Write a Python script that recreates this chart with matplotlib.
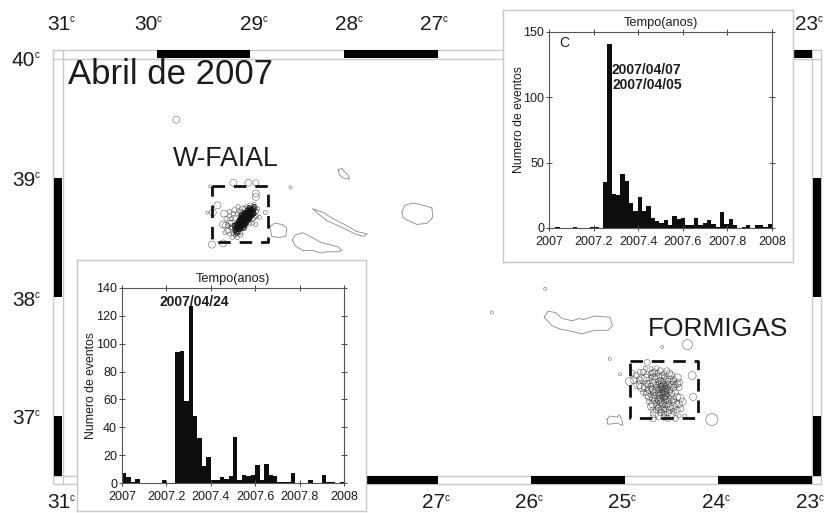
import numpy as np
import matplotlib
matplotlib.use("Agg")
import matplotlib.pyplot as plt

plt.rcParams['font.family'] = ['Liberation Sans', 'DejaVu Sans']

W, H = 828, 513

# Histogram data, events per bin
bins_c = list(range(53))
counts_c = [0, 0, 1, 0, 0, 0, 1, 0, 0, 0, 1, 1, 0, 35, 141, 26, 25, 41, 36, 19, 13, 24, 13, 17, 8, 5, 4,
            6, 2, 9, 7, 8, 2, 2, 8, 2, 4, 6, 3, 1, 12, 3, 7, 2, 0, 1, 2, 0, 2, 2, 1, 3, 0]
bins_f = list(range(50))
counts_f = [7, 4, 1, 3, 0, 0, 0, 0, 0, 2, 0, 0, 94, 95, 59, 127, 48, 32, 12, 19, 2, 2, 4, 3, 5,
            33, 2, 6, 5, 6, 13, 2, 14, 6, 5, 1, 1, 1, 7, 0, 0, 0, 2, 0, 0, 6, 1, 1, 0, 1]
year_ticks = [2007, 2007.2, 2007.4, 2007.6, 2007.8, 2008]
year_labels = ['2007', '2007.2', '2007.4', '2007.6', '2007.8', '2008']

# Events W of Faial (degrees W, degrees N, magnitude)
faial_lon = [29.79, 29.18, 29.02, 28.94, 28.94, 28.94, 28.57, 29.43, 29.35, 29.40, 29.46, 29.28, 29.29, 29.41, 29.29,
             28.90, 28.84, 28.94, 29.10, 29.14, 29.17, 29.19, 29.13, 29.22, 29.17, 28.95, 28.97,
             29.20, 29.22, 29.18, 29.12, 29.08, 29.04, 29.16, 29.19, 29.24, 29.21, 29.26, 28.98, 28.93,
             29.22, 29.16, 29.20, 29.24, 29.14, 29.10, 29.06, 29.00, 28.96, 28.92, 28.94, 28.98, 29.02, 29.06,
             29.10, 29.14, 29.18, 29.22, 29.26, 29.27]
faial_lat = [39.49, 38.96, 38.96, 38.96, 38.87, 38.84, 38.92, 38.93, 38.77, 38.71, 38.71, 38.70, 38.61, 38.44, 38.45,
             38.67, 38.71, 38.61, 38.52, 38.50, 38.55, 38.59, 38.76, 38.72, 38.73, 38.75, 38.67,
             38.62, 38.68, 38.70, 38.72, 38.74, 38.76, 38.52, 38.50, 38.56, 38.58, 38.66, 38.62, 38.72,
             38.62, 38.66, 38.66, 38.60, 38.70, 38.72, 38.74, 38.77, 38.78, 38.74, 38.68, 38.66, 38.62, 38.58,
             38.54, 38.53, 38.54, 38.53, 38.60, 38.54]
faial_mag = [3.5, 3.5, 3.5, 3, 3.5, 3.5, 1.5, 1.5, 3.5, 3.5, 1.5, 3.5, 3.5, 3.5, 3.5,
             2, 2, 2, 2, 2, 2, 3, 2, 2, 2.5, 2.5, 3.5,
             3, 2, 2, 2, 3, 2, 2, 2, 3, 2, 2, 2, 2,
             3, 2.5, 2, 2.5, 2, 2, 2.5, 2.5, 2, 2, 2.5, 3, 3, 2.5,
             2, 2, 2.5, 2, 3.5, 2]
# dense part of the W-Faial swarm, all small events
faial_core_lon = [29.16, 29.14, 29.13, 29.12, 29.15, 29.11, 29.10, 29.13, 29.09, 29.08, 29.11, 29.07, 29.06, 29.09,
                  29.05, 29.04, 29.07, 29.03, 29.02, 29.05, 29.01, 29.00, 29.03, 28.99, 28.98, 29.01, 28.97, 28.96,
                  29.10, 29.08, 29.06, 29.04, 29.02, 29.00, 29.12, 29.07, 29.05, 29.03, 29.09, 29.11, 29.06, 29.08,
                  29.04, 29.02, 29.00, 29.10, 29.12, 29.14, 29.07, 29.05, 29.03, 29.01, 28.99, 28.97, 29.09, 29.06,
                  29.13, 29.11, 29.09, 29.07, 29.12, 29.10, 29.08, 29.06, 29.04, 29.10, 29.08, 29.06, 29.04, 29.02,
                  29.00, 29.02, 29.00, 28.98, 28.98, 28.96, 28.96, 28.99, 29.01, 29.03, 29.05, 29.07, 29.09, 29.11,
                  29.13, 29.15, 29.08, 29.06, 29.04, 29.02, 29.00, 29.10, 29.12, 29.07, 29.05, 29.03, 29.09, 29.05,
                  29.03, 29.01, 29.07, 29.11, 29.14, 29.16, 29.15, 29.17]
faial_core_lat = [38.56, 38.58, 38.55, 38.60, 38.61, 38.57, 38.62, 38.63, 38.60, 38.64, 38.65, 38.62, 38.66, 38.67,
                  38.64, 38.68, 38.69, 38.66, 38.70, 38.71, 38.68, 38.72, 38.73, 38.70, 38.74, 38.75, 38.72, 38.76,
                  38.66, 38.61, 38.63, 38.65, 38.67, 38.69, 38.62, 38.65, 38.67, 38.69, 38.63, 38.61, 38.68, 38.66,
                  38.70, 38.72, 38.74, 38.59, 38.57, 38.60, 38.60, 38.62, 38.64, 38.66, 38.68, 38.70, 38.69, 38.71,
                  38.59, 38.59, 38.58, 38.58, 38.64, 38.64, 38.62, 38.60, 38.62, 38.68, 38.68, 38.65, 38.67, 38.65,
                  38.67, 38.69, 38.71, 38.69, 38.72, 38.70, 38.74, 38.73, 38.73, 38.71, 38.69, 38.67, 38.65, 38.63,
                  38.61, 38.58, 38.63, 38.64, 38.66, 38.68, 38.70, 38.61, 38.59, 38.66, 38.68, 38.70, 38.64, 38.65,
                  38.67, 38.69, 38.63, 38.60, 38.57, 38.58, 38.54, 38.60]

# Events at Formigas
formigas_lon = [25.85, 26.42, 24.33, 24.60, 25.16, 25.05, 24.07, 24.76, 24.28, 24.27, 24.41, 24.95, 24.92,
                24.72, 24.68, 24.65, 24.62, 24.58, 24.70, 24.66, 24.62, 24.58, 24.54, 24.50, 24.64, 24.60, 24.56,
                24.52, 24.48, 24.68, 24.62, 24.58, 24.54, 24.50, 24.70, 24.65, 24.60, 24.56, 24.52, 24.66, 24.62,
                24.58, 24.54, 24.64, 24.60, 24.56, 24.52, 24.62, 24.58, 24.60, 24.57, 24.61, 24.64, 24.67, 24.59,
                24.55, 24.63, 24.61, 24.57, 24.66, 24.53, 24.59, 24.56,
                24.88, 24.84, 24.80, 24.78, 24.76, 24.82, 24.74, 24.76, 24.80, 24.86, 24.90, 24.72, 24.66, 24.55,
                24.50, 24.44, 24.42, 24.46, 24.42, 24.38, 24.48, 24.44, 24.40, 24.50, 24.46, 24.54, 24.68, 24.70,
                24.66, 24.74, 24.72, 24.36, 24.42, 24.78, 24.84,
                24.74, 24.72, 24.70, 24.64, 24.60, 24.56, 24.52, 24.48, 24.46, 24.64, 24.60, 24.56, 24.62, 24.58,
                24.54, 24.66, 24.60, 24.56, 24.52, 24.64, 24.60, 24.57, 24.62, 24.58, 24.54, 24.60, 24.64, 24.68,
                24.58, 24.62, 24.54, 24.66, 24.70, 24.72, 24.74, 24.76, 24.78, 24.82, 24.84, 24.72, 24.74, 24.68,
                24.50, 24.48, 24.46, 24.44, 24.42, 24.44, 24.48, 24.52, 24.58, 24.62, 24.68, 24.76, 24.70, 24.70,
                24.64, 24.58, 24.52, 24.48]
formigas_lat = [38.07, 37.87, 37.60, 37.58, 37.48, 37.35, 36.97, 37.45, 37.34, 37.16, 37.15, 37.29, 37.36,
                37.36, 37.33, 37.36, 37.30, 37.33, 37.28, 37.26, 37.25, 37.27, 37.29, 37.26, 37.22, 37.22, 37.23,
                37.22, 37.24, 37.20, 37.19, 37.19, 37.18, 37.19, 37.15, 37.15, 37.16, 37.14, 37.15, 37.11, 37.11,
                37.12, 37.10, 37.07, 37.07, 37.06, 37.05, 37.03, 37.02, 37.24, 37.25, 37.27, 37.29, 37.31, 37.20,
                37.21, 37.17, 37.13, 37.09, 37.24, 37.26, 37.29, 37.17,
                37.34, 37.30, 37.37, 37.32, 37.27, 37.24, 37.22, 37.18, 37.20, 37.26, 37.30, 37.40, 37.40, 37.38,
                37.34, 37.32, 37.28, 37.20, 37.10, 37.12, 37.08, 37.05, 37.06, 37.01, 36.98, 36.98, 37.02, 36.98,
                37.05, 37.12, 37.08, 37.00, 37.00, 37.40, 37.37,
                37.30, 37.33, 37.36, 37.33, 37.34, 37.31, 37.31, 37.29, 37.26, 37.27, 37.25, 37.26, 37.23, 37.23,
                37.24, 37.22, 37.20, 37.20, 37.20, 37.19, 37.18, 37.16, 37.15, 37.15, 37.13, 37.10, 37.13, 37.13,
                37.05, 37.05, 37.03, 37.09, 37.22, 37.25, 37.27, 37.35, 37.24, 37.32, 37.26, 37.18, 37.16, 37.17,
                37.12, 37.14, 37.11, 37.16, 37.24, 37.27, 37.31, 37.36, 37.36, 37.38, 37.37, 37.20, 37.10, 37.05,
                37.00, 36.99, 37.08, 37.04]
formigas_mag = [1.5, 1.5, 5, 1.5, 1.5, 1.5, 6, 3, 4, 3.5, 4, 4, 3,
                2.5, 3, 2.5, 3, 2.5, 3.5, 3, 3, 2.5, 3, 3.5, 3, 2.5, 3,
                3, 3.5, 3, 2.5, 3, 2.5, 3, 3.5, 3, 2.5, 3, 2.5, 3, 3,
                2.5, 3, 3, 2.5, 3, 3.5, 3, 2.5, 2.5, 2.5, 3, 3, 3, 2.5,
                2.5, 3, 3, 2.5, 3, 3, 2.5, 3,
                3, 3.5, 3, 4, 3.5, 4, 3.5, 4, 3, 4, 3.5, 2, 2.5, 3,
                3.5, 4, 3.5, 3, 3.5, 3.5, 4, 3, 3, 3.5, 3, 3, 4, 3.5,
                3, 2.5, 3.5, 2, 2, 2, 2.5,
                3, 2.5, 3, 3.5, 3, 2.5, 3, 3.5, 3, 2.5, 3, 2.5, 2.5, 3,
                2.5, 3, 2.5, 3, 2.5, 3, 2.5, 3, 3, 2.5, 3, 3, 3.5, 3,
                3, 2.5, 3.5, 3, 3.5, 3, 3.5, 3, 4, 3, 3.5, 3, 3.5, 3,
                3.5, 3, 4, 3.5, 3, 3.5, 3, 3, 2.5, 3, 3, 3.5, 4, 3,
                3.5, 3, 4, 3]

# Island outlines
sao_jorge_lon = [28.33, 28.22, 28.12, 27.97, 27.86, 27.75, 27.79, 27.88, 28.01, 28.09, 28.18, 28.26, 28.33]
sao_jorge_lat = [38.74, 38.71, 38.66, 38.60, 38.55, 38.53, 38.51, 38.53, 38.58, 38.61, 38.64, 38.69, 38.74]
pico_lon = [28.55, 28.52, 28.44, 28.34, 28.25, 28.15, 28.06, 28.02, 28.07, 28.18, 28.25, 28.33, 28.44, 28.52, 28.55]
pico_lat = [38.48, 38.52, 38.54, 38.50, 38.46, 38.44, 38.42, 38.39, 38.38, 38.38, 38.37, 38.39, 38.39, 38.43, 38.48]
faial_isl_lon = [28.79, 28.74, 28.66, 28.61, 28.62, 28.70, 28.77, 28.78, 28.79]
faial_isl_lat = [38.59, 38.62, 38.61, 38.58, 38.51, 38.50, 38.51, 38.55, 38.59]
graciosa_lon = [28.06, 28.02, 27.99, 27.96, 27.94, 28.01, 28.05, 28.06]
graciosa_lat = [39.07, 39.08, 39.05, 39.03, 38.99, 39.00, 39.03, 39.07]
terceira_lon = [27.38, 27.35, 27.26, 27.15, 27.06, 27.05, 27.11, 27.22, 27.31, 27.37, 27.38]
terceira_lat = [38.71, 38.77, 38.79, 38.77, 38.75, 38.67, 38.62, 38.61, 38.64, 38.67, 38.71]
sao_miguel_lon = [25.86, 25.82, 25.74, 25.67, 25.56, 25.49, 25.44, 25.32, 25.16, 25.13, 25.18, 25.32, 25.46, 25.56, 25.69, 25.78, 25.86]
sao_miguel_lat = [37.83, 37.88, 37.87, 37.82, 37.80, 37.82, 37.81, 37.84, 37.83, 37.76, 37.72, 37.72, 37.69, 37.71, 37.73, 37.76, 37.83]
santa_maria_lon = [25.19, 25.16, 25.08, 25.06, 25.03, 25.02, 25.08, 25.18, 25.19]
santa_maria_lat = [36.97, 37.00, 36.99, 37.01, 36.97, 36.92, 36.94, 36.93, 36.97]

# Study boxes
box_faial_lon = [29.41, 28.81, 28.81, 29.41, 29.41]
box_faial_lat = [38.93, 38.93, 38.46, 38.46, 38.93]
box_formigas_lon = [24.94, 24.22, 24.22, 24.94, 24.94]
box_formigas_lat = [37.46, 37.46, 36.98, 36.98, 37.46]

# Scale bar segments on the frame
black_lon = [(30, 29), (28, 27), (26, 25), (24, 23)]
black_lat = [(39, 38), (37, 36.5)]

GREY = '#c8c8c8'
TXT = '#1c1c1c'


def axes_px(left, top, right, bottom, **kw):
    return fig.add_axes([left / W, 1 - bottom / H, (right - left) / W, (bottom - top) / H], **kw)


def deg_label(x, y, s):
    # number plus a small raised c
    fig.text(x / W, 1 - y / H, s, fontsize=15, color=TXT, ha='left', va='center')
    fig.text((x + 23) / W, 1 - (y - 5) / H, 'c', fontsize=7, color=TXT, ha='left', va='center')


def histogram(panel, box, x, y, width, ymax, yticks, ylab_pos):
    p = axes_px(*panel)
    p.set_xticks([])
    p.set_yticks([])
    for s in p.spines.values():
        s.set_color(GREY)
        s.set_linewidth(1.0)
    ax = axes_px(*box)
    ax.bar(x, y, width=width, color='#0d0d0d', align='edge')
    ax.set_xlim(2007, 2008)
    ax.set_ylim(0, ymax)
    ax.set_xticks(year_ticks, year_labels)
    ax.set_yticks(yticks)
    ax.tick_params(direction='inout', top=True, right=True, length=5, width=0.7, labelsize=9,
                   color='#444444', labelcolor=TXT, pad=1)
    ax.tick_params(axis='x', pad=3)
    for s in ax.spines.values():
        s.set_color('#555555')
        s.set_linewidth(0.8)
    ax.set_title('Tempo(anos)', fontsize=9.2, color=TXT, pad=4)
    ax.set_ylabel('Numero de eventos', fontsize=8.8, color=TXT)
    ax.yaxis.set_label_coords(*ylab_pos)
    return ax


fig = plt.figure(figsize=(W / 100, H / 100), dpi=100)

# Outer frame and scale strips
frame = axes_px(53, 50, 821, 484)
frame.set_xlim(53, 821)
frame.set_ylim(484, 50)
frame.axis('off')
frame.plot([53, 821, 821, 53, 53], [50, 50, 484, 484, 50], color=GREY, lw=1, clip_on=False)
frame.plot([63, 63], [50, 484], color=GREY, lw=1)
frame.plot([812, 812], [50, 484], color=GREY, lw=1)
frame.plot([53, 821], [59, 59], color=GREY, lw=1)
frame.plot([53, 821], [475.5, 475.5], color=GREY, lw=1)

ax = axes_px(63, 59, 812, 475.5)
ax.patch.set_alpha(0)
ax.set_xlim(31, 23)
ax.set_ylim(36.5, 40)
ax.axis('off')

lon_trans = ax.get_xaxis_transform()
lat_trans = ax.get_yaxis_transform()
for a, b in black_lon:
    ax.bar(a, 0.0185, width=b - a, align='edge', bottom=1.002, color='k', transform=lon_trans, clip_on=False)
    ax.bar(a, 0.0185, width=b - a, align='edge', bottom=-0.0205, color='k', transform=lon_trans, clip_on=False)
for a, b in black_lat:
    ax.barh(a, 0.0115, height=b - a, align='edge', left=-0.0125, color='k', transform=lat_trans, clip_on=False)
    ax.barh(a, 0.0105, height=b - a, align='edge', left=1.001, color='k', transform=lat_trans, clip_on=False)

# Islands
for lon, lat in [(sao_jorge_lon, sao_jorge_lat), (pico_lon, pico_lat), (faial_isl_lon, faial_isl_lat),
                 (graciosa_lon, graciosa_lat), (terceira_lon, terceira_lat),
                 (sao_miguel_lon, sao_miguel_lat), (santa_maria_lon, santa_maria_lat)]:
    ax.plot(lon, lat, color='#888888', lw=0.6)

# Events
for lon, lat, mag in [(faial_lon, faial_lat, faial_mag), (formigas_lon, formigas_lat, formigas_mag)]:
    ax.scatter(lon, lat, s=(1.44 * np.array(mag)) ** 2, facecolors='none', edgecolors='#333333',
               linewidths=0.4, alpha=0.75)
ax.scatter(faial_core_lon, faial_core_lat, s=(1.44 * 2.2) ** 2, facecolors='none', edgecolors='#111111',
           linewidths=0.6)

# Boxes
for lon, lat in [(box_faial_lon, box_faial_lat), (box_formigas_lon, box_formigas_lat)]:
    ax.plot(lon, lat, color='#111111', lw=2, dashes=(4.5, 3.2))

# Titles
fig.text(68 / W, 1 - 75 / H, 'Abril de 2007', fontsize=25, color=TXT, ha='left', va='center')
fig.text(173 / W, 1 - 159 / H, 'W-FAIAL', fontsize=19.2, color=TXT, ha='left', va='center')
fig.text(648 / W, 1 - 329 / H, 'FORMIGAS', fontsize=19, color=TXT, ha='left', va='center')

# Degree labels
for s, x in [('31', 47), ('30', 134), ('29', 240), ('28', 335), ('27', 420), ('23', 795)]:
    deg_label(x, 24, s)
for s, x in [('31', 47), ('27', 422), ('26', 515), ('25', 608), ('24', 702), ('23', 796)]:
    deg_label(x, 503, s)
for s, y in [('40', 60), ('39', 180), ('38', 300), ('37', 418)]:
    deg_label(12, y, s)

# Inset Formigas
ins_c = histogram((503, 10, 793, 262), (549, 32, 772, 228), np.array(bins_c) / 51.5 + 2007 - 0.5 / 51.5,
                  counts_c, 1 / 51.5, 150, [0, 50, 100, 150], (-0.107, 0.551))
ins_c.text(2007.07, 141.5, 'C', fontsize=10, color=TXT, ha='center', va='center')
ins_c.text(2007.2825, 121, '2007/04/07', fontsize=10, fontweight='bold', color=TXT, va='center')
ins_c.text(2007.2865, 109.5, '2007/04/05', fontsize=10, fontweight='bold', color=TXT, va='center')

# Inset W-Faial
ins_f = histogram((77, 260, 366, 511), (122, 288, 344, 483), np.array(bins_f) / 50 + 2007,
                  counts_f, 1 / 50, 140, [0, 20, 40, 60, 80, 100, 120, 140], (-0.112, 0.5))
ins_f.text(2007.171, 130, '2007/04/24', fontsize=10, fontweight='bold', color=TXT, va='center')

plt.savefig('out.png', dpi=100)
